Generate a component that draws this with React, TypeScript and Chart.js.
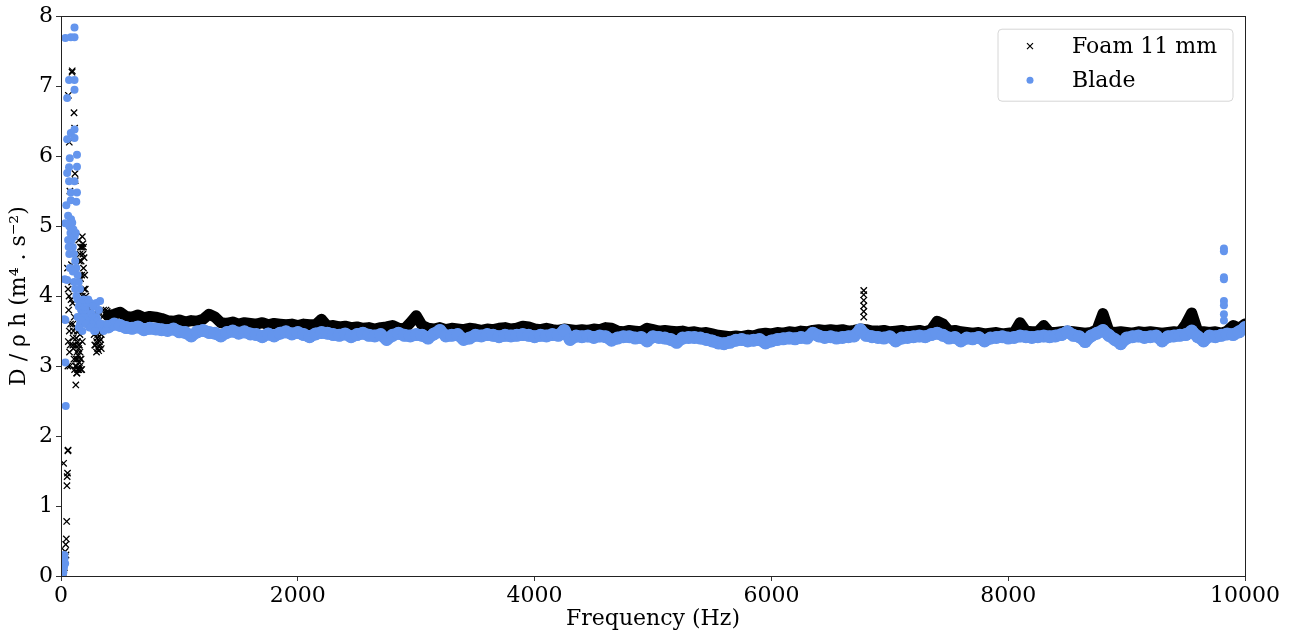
import React, { useEffect, useRef } from "react";
import { Chart, registerables } from "chart.js";

Chart.register(...registerables);

// ---- Data ----
const X_TICKS = [0, 2000, 4000, 6000, 8000, 10000];
const Y_TICKS = [0, 1, 2, 3, 4, 5, 6, 7, 8];

// Main band: one reading every 50 Hz from 400 Hz to 10000 Hz
const GRID_START_HZ = 400;
const GRID_STEP_HZ = 50;

const foamBand = [
  3.72, 3.74, 3.77, 3.71, 3.70, 3.73, 3.69, 3.71, 3.70, 3.68,
  3.65, 3.64, 3.66, 3.63, 3.65, 3.64, 3.67, 3.74, 3.70, 3.62,
  3.61, 3.63, 3.60, 3.62, 3.61, 3.60, 3.62, 3.59, 3.61, 3.60,
  3.59, 3.60, 3.58, 3.60, 3.59, 3.59, 3.67, 3.57, 3.58, 3.56,
  3.57, 3.55, 3.56, 3.54, 3.55, 3.53, 3.55, 3.56, 3.58, 3.54,
  3.53, 3.62, 3.72, 3.58, 3.54, 3.53, 3.55, 3.52, 3.54, 3.53,
  3.52, 3.54, 3.53, 3.51, 3.53, 3.52, 3.54, 3.55, 3.53, 3.54,
  3.57, 3.56, 3.53, 3.52, 3.54, 3.52, 3.51, 3.53, 3.52, 3.51,
  3.52, 3.51, 3.53, 3.52, 3.55, 3.54, 3.50, 3.49, 3.51, 3.50,
  3.49, 3.54, 3.52, 3.50, 3.51, 3.50, 3.49, 3.50, 3.48, 3.49,
  3.47, 3.48, 3.46, 3.44, 3.43, 3.42, 3.43, 3.42, 3.44, 3.43,
  3.46, 3.47, 3.46, 3.48, 3.47, 3.49, 3.48, 3.50, 3.49, 3.51,
  3.52, 3.51, 3.52, 3.51, 3.52, 3.50, 3.51, 3.53, 3.52, 3.50,
  3.50, 3.51, 3.49, 3.50, 3.51, 3.49, 3.50, 3.51, 3.49, 3.52,
  3.64, 3.60, 3.50, 3.51, 3.49, 3.48, 3.47, 3.48, 3.46, 3.47,
  3.48, 3.46, 3.47, 3.48, 3.62, 3.50, 3.49, 3.49, 3.58, 3.48,
  3.48, 3.49, 3.50, 3.49, 3.48, 3.47, 3.48, 3.52, 3.75, 3.50,
  3.48, 3.49, 3.48, 3.47, 3.49, 3.48, 3.49, 3.48, 3.47, 3.48,
  3.49, 3.48, 3.60, 3.76, 3.50, 3.49, 3.48, 3.49, 3.47, 3.50,
  3.58, 3.54, 3.60,
];

const bladeBand = [
  3.56, 3.60, 3.58, 3.55, 3.54, 3.56, 3.52, 3.54, 3.53, 3.52,
  3.51, 3.53, 3.49, 3.48, 3.43, 3.49, 3.51, 3.48, 3.47, 3.43,
  3.48, 3.50, 3.47, 3.49, 3.46, 3.45, 3.42, 3.46, 3.43, 3.47,
  3.49, 3.46, 3.48, 3.45, 3.42, 3.46, 3.48, 3.47, 3.45, 3.44,
  3.46, 3.42, 3.45, 3.47, 3.44, 3.43, 3.45, 3.38, 3.44, 3.47,
  3.44, 3.43, 3.45, 3.44, 3.40, 3.46, 3.51, 3.43, 3.44, 3.45,
  3.38, 3.40, 3.44, 3.43, 3.45, 3.44, 3.42, 3.44, 3.43, 3.44,
  3.45, 3.44, 3.42, 3.44, 3.43, 3.45, 3.44, 3.51, 3.38, 3.43,
  3.42, 3.43, 3.41, 3.43, 3.42, 3.37, 3.40, 3.42, 3.42, 3.40,
  3.41, 3.36, 3.42, 3.41, 3.40, 3.38, 3.34, 3.40, 3.41, 3.41,
  3.40, 3.38, 3.36, 3.33, 3.32, 3.34, 3.37, 3.38, 3.36, 3.37,
  3.38, 3.33, 3.36, 3.38, 3.39, 3.40, 3.39, 3.41, 3.40, 3.47,
  3.43, 3.41, 3.42, 3.40, 3.41, 3.42, 3.43, 3.52, 3.44, 3.42,
  3.41, 3.40, 3.42, 3.36, 3.40, 3.41, 3.42, 3.43, 3.42, 3.45,
  3.47, 3.44, 3.40, 3.41, 3.36, 3.40, 3.39, 3.41, 3.36, 3.40,
  3.41, 3.42, 3.40, 3.41, 3.43, 3.42, 3.41, 3.42, 3.43, 3.42,
  3.43, 3.45, 3.49, 3.44, 3.42, 3.35, 3.43, 3.47, 3.51, 3.44,
  3.38, 3.32, 3.40, 3.42, 3.43, 3.41, 3.42, 3.43, 3.36, 3.42,
  3.43, 3.44, 3.45, 3.50, 3.42, 3.36, 3.43, 3.42, 3.44, 3.46,
  3.45, 3.49, 3.55,
];

// Scattered readings below 400 Hz: [Hz, value]
const foamLowFreq: [number, number][] = [
  [5, 0.02], [10, 0.1], [15, 0.2], [18, 0.05], [20, 0.15], [25, 0.28], [28, 0.12],
  [30, 0.22], [35, 0.35], [22, 1.61], [40, 0.45], [42, 0.3], [45, 0.53], [48, 0.78],
  [50, 1.29], [52, 1.42], [55, 1.47], [58, 1.79], [60, 1.8], [62, 6.87], [70, 6.2],
  [75, 5.5], [80, 5.0], [85, 4.75], [88, 4.45], [90, 4.2], [93, 7.2], [95, 7.22],
  [98, 3.9], [100, 3.6], [102, 3.4], [105, 3.25], [110, 6.62], [112, 3.7], [115, 6.4],
  [118, 5.75], [120, 5.65], [122, 3.0], [125, 2.73], [128, 3.1], [130, 3.4], [132, 2.9],
  [135, 3.2], [138, 3.5], [140, 2.95], [145, 3.15], [148, 3.3], [150, 2.95], [155, 3.05],
  [160, 3.2], [165, 4.25], [170, 4.5], [175, 4.7], [180, 4.85], [185, 4.6], [190, 4.4],
  [195, 4.1], [200, 3.85], [205, 3.95], [210, 3.75], [220, 3.8], [230, 3.7], [240, 3.85],
  [250, 3.8], [260, 3.7], [270, 3.75], [280, 3.6], [290, 3.3], [300, 3.2], [310, 3.25],
  [318, 3.22], [325, 3.35], [330, 3.3], [340, 3.45], [290, 3.75], [300, 3.8], [320, 3.78],
  [350, 3.7], [360, 3.8], [370, 3.75], [380, 3.8], [390, 3.78],
  [140, 3.1], [150, 3.25], [160, 3.0], [170, 3.1], [180, 3.35], [190, 3.6], [175, 2.95],
  [185, 4.75], [195, 4.55], [160, 4.6], [305, 3.4], [315, 3.5], [335, 3.38],
  [55, 4.4], [60, 4.1], [65, 3.8], [70, 3.5], [72, 3.2], [75, 3.0], [78, 3.3], [80, 3.6],
  [85, 3.95], [58, 3.0], [62, 3.35], [68, 4.0], [100, 3.3], [105, 3.5], [110, 3.1],
  [115, 2.95], [120, 3.3], [125, 3.55], [130, 3.0], [135, 2.9], [140, 3.35], [145, 2.95],
  [150, 3.5], [155, 3.3], [160, 3.45], [165, 3.1], [170, 2.95], [150, 4.8], [155, 4.5],
  [160, 4.3], [165, 4.7], [170, 4.05], [175, 4.3], [180, 4.0], [190, 4.7], [200, 4.3],
  [205, 4.1], [210, 4.0], [280, 3.45], [285, 3.3], [295, 3.5], [300, 3.35], [310, 3.45],
  [320, 3.28], [330, 3.5], [340, 3.25],
];

// Isolated spike near 6780 Hz
const foamSpike: [number, number][] = [
  [6780, 3.7], [6780, 3.78], [6780, 3.86], [6780, 3.94], [6780, 4.02], [6780, 4.08],
];

const bladeLowFreq: [number, number][] = [
  [20, 0.05], [25, 0.12], [30, 0.25], [35, 0.18], [28, 0.3], [40, 2.43], [37, 3.05],
  [37, 3.66], [52, 4.23], [37, 5.04], [45, 5.3], [52, 5.76], [52, 6.24], [68, 5.84],
  [74, 5.97], [68, 7.09], [37, 7.69], [83, 7.7], [114, 7.7], [114, 7.84], [114, 7.09],
  [114, 6.95], [52, 6.83], [83, 6.33], [114, 6.38], [114, 6.26], [135, 6.02], [135, 5.85],
  [68, 5.64], [114, 5.64], [83, 5.48], [135, 5.48], [83, 5.37], [129, 5.35], [60, 5.15],
  [70, 5.0], [80, 4.9], [90, 4.8], [100, 4.7], [110, 4.6], [120, 4.5], [130, 4.4],
  [140, 4.3], [150, 4.2], [160, 4.1], [60, 4.8], [70, 4.6], [75, 4.4], [85, 5.1],
  [95, 5.05], [105, 4.95], [115, 4.85], [125, 4.9], [65, 4.7], [100, 4.35], [110, 4.2],
  [120, 4.1], [130, 4.0], [140, 3.95], [150, 3.85], [160, 3.9], [170, 3.8], [180, 3.75],
  [190, 3.7], [200, 3.65], [210, 3.8], [220, 3.6], [230, 3.7], [240, 3.65], [250, 3.9],
  [260, 3.75], [270, 3.7], [280, 3.65], [290, 3.6], [300, 3.7], [310, 3.65], [320, 3.8],
  [330, 3.93], [340, 3.55], [350, 3.6], [360, 3.5], [370, 3.58], [380, 3.55], [390, 3.6],
  [140, 3.7], [160, 3.6], [180, 3.5], [200, 3.85], [220, 3.9], [240, 3.55], [260, 3.6],
  [280, 3.5], [300, 3.9], [310, 3.55], [330, 3.6], [150, 3.55], [170, 3.65], [190, 3.95],
  [210, 3.6], [230, 3.95], [250, 3.55], [270, 3.85], [290, 3.5], [31, 4.24], [28, 3.67],
];

// Isolated spike near 9822 Hz
const bladeSpike: [number, number][] = [
  [9822, 4.68], [9822, 4.64], [9822, 4.27], [9822, 4.24], [9822, 3.93], [9822, 3.87],
  [9822, 3.74], [9822, 3.65],
];

const FONT = "'DejaVu Serif', 'Liberation Serif', serif";
const BLADE_COLOR = "#6495ED";

function bandPoints(values: number[]) {
  return values.map((v, i) => ({ x: GRID_START_HZ + i * GRID_STEP_HZ, y: v }));
}
function pairPoints(list: [number, number][]) {
  return list.map(([x, y]) => ({ x, y }));
}

const framePlugin = {
  id: "frame",
  afterDatasetsDraw(chart: any) {
    const { ctx, chartArea } = chart;
    ctx.save();
    ctx.strokeStyle = "#222";
    ctx.lineWidth = 1;
    ctx.strokeRect(
      Math.round(chartArea.left) + 0.5,
      Math.round(chartArea.top) + 0.5,
      Math.round(chartArea.right - chartArea.left),
      Math.round(chartArea.bottom - chartArea.top)
    );
    ctx.restore();
  },
};

const legendPlugin = {
  id: "boxLegend",
  afterDraw(chart: any) {
    const { ctx, chartArea } = chart;
    const w = 235;
    const h = 72;
    const x0 = chartArea.right - 12 - w;
    const y0 = chartArea.top + 13;
    ctx.save();
    ctx.beginPath();
    const r = 4;
    ctx.moveTo(x0 + r, y0);
    ctx.lineTo(x0 + w - r, y0);
    ctx.quadraticCurveTo(x0 + w, y0, x0 + w, y0 + r);
    ctx.lineTo(x0 + w, y0 + h - r);
    ctx.quadraticCurveTo(x0 + w, y0 + h, x0 + w - r, y0 + h);
    ctx.lineTo(x0 + r, y0 + h);
    ctx.quadraticCurveTo(x0, y0 + h, x0, y0 + h - r);
    ctx.lineTo(x0, y0 + r);
    ctx.quadraticCurveTo(x0, y0, x0 + r, y0);
    ctx.closePath();
    ctx.fillStyle = "rgba(255,255,255,0.8)";
    ctx.fill();
    ctx.strokeStyle = "#d6d6d6";
    ctx.lineWidth = 1;
    ctx.stroke();

    const mx = x0 + 32;
    const row1 = y0 + 17;
    const row2 = y0 + 51;
    ctx.strokeStyle = "#000";
    ctx.lineWidth = 1.2;
    const s = 3;
    ctx.beginPath();
    ctx.moveTo(mx - s, row1 - s);
    ctx.lineTo(mx + s, row1 + s);
    ctx.moveTo(mx - s, row1 + s);
    ctx.lineTo(mx + s, row1 - s);
    ctx.stroke();
    ctx.fillStyle = BLADE_COLOR;
    ctx.beginPath();
    ctx.arc(mx, row2, 3.5, 0, Math.PI * 2);
    ctx.fill();

    ctx.fillStyle = "#000";
    ctx.font = `22px ${FONT}`;
    ctx.textBaseline = "middle";
    ctx.textAlign = "left";
    ctx.fillText("Foam 11 mm", x0 + 74, row1 + 1);
    ctx.fillText("Blade", x0 + 74, row2 + 1);
    ctx.restore();
  },
};

export default function App() {
  const canvasRef = useRef<HTMLCanvasElement | null>(null);

  useEffect(() => {
    if (!canvasRef.current) return;
    const foamScatter = [...pairPoints(foamLowFreq), ...pairPoints(foamSpike)];
    const bladeScatter = [...pairPoints(bladeLowFreq), ...pairPoints(bladeSpike)];

    const chart = new Chart(canvasRef.current, {
      type: "scatter",
      data: {
        datasets: [
          {
            label: "Foam 11 mm",
            data: bandPoints(foamBand),
            order: 4,
            showLine: true,
            tension: 0,
            borderWidth: 11,
            borderJoinStyle: "round",
            borderCapStyle: "round",
            pointStyle: "crossRot",
            pointRadius: 5,
            pointBorderWidth: 1.6,
            borderColor: "#000",
            backgroundColor: "#000",
          },
          {
            label: "Foam 11 mm (scatter)",
            data: foamScatter,
            order: 3,
            pointStyle: "crossRot",
            pointRadius: 4.5,
            pointBorderWidth: 1.3,
            borderColor: "#000",
            backgroundColor: "#000",
          },
          {
            label: "Blade",
            data: bandPoints(bladeBand),
            order: 2,
            showLine: true,
            tension: 0,
            borderWidth: 12,
            borderJoinStyle: "round",
            borderCapStyle: "round",
            pointStyle: "circle",
            pointRadius: 6.5,
            pointBorderWidth: 0,
            borderColor: BLADE_COLOR,
            backgroundColor: BLADE_COLOR,
          },
          {
            label: "Blade (scatter)",
            data: bladeScatter,
            order: 1,
            pointStyle: "circle",
            pointRadius: 4,
            pointBorderWidth: 0,
            borderColor: BLADE_COLOR,
            backgroundColor: BLADE_COLOR,
          },
        ],
      },
      options: {
        animation: false,
        responsive: true,
        maintainAspectRatio: false,
        layout: { padding: { top: 14, right: 50, left: 0, bottom: 0 } },
        plugins: {
          legend: { display: false },
          tooltip: { enabled: false },
        },
        scales: {
          x: {
            type: "linear",
            min: 0,
            max: 10000,
            afterBuildTicks: (scale: any) => {
              scale.ticks = X_TICKS.map((v) => ({ value: v }));
            },
            afterFit: (scale: any) => {
              scale.height = 61;
            },
            ticks: {
              color: "#000",
              font: { family: FONT, size: 22 },
              padding: 2,
              maxRotation: 0,
              callback: (v: any) => String(v),
            },
            grid: {
              display: true,
              drawOnChartArea: false,
              tickLength: 5,
              color: "#333",
            },
            border: { display: false },
            title: {
              display: true,
              text: "Frequency (Hz)",
              color: "#000",
              font: { family: FONT, size: 22 },
              padding: { top: 0, bottom: 5 },
            },
          },
          y: {
            type: "linear",
            min: 0,
            max: 8,
            afterBuildTicks: (scale: any) => {
              scale.ticks = Y_TICKS.map((v) => ({ value: v }));
            },
            afterFit: (scale: any) => {
              scale.width = 61;
            },
            ticks: {
              color: "#000",
              font: { family: FONT, size: 22 },
              padding: 3,
              callback: (v: any) => String(v),
            },
            grid: {
              display: true,
              drawOnChartArea: false,
              tickLength: 5,
              color: "#333",
            },
            border: { display: false },
            title: {
              display: true,
              text: "D / ρ h (m⁴ . s⁻²)",
              color: "#000",
              font: { family: FONT, size: 22 },
              padding: { top: 6, bottom: 0 },
            },
          },
        },
      },
      plugins: [framePlugin, legendPlugin],
    });
    return () => chart.destroy();
  }, []);

  return (
    <div
      style={{
        position: "fixed",
        left: 0,
        top: 0,
        width: 1295,
        height: 637,
        background: "#fff",
      }}
    >
      <canvas ref={canvasRef} />
    </div>
  );
}
